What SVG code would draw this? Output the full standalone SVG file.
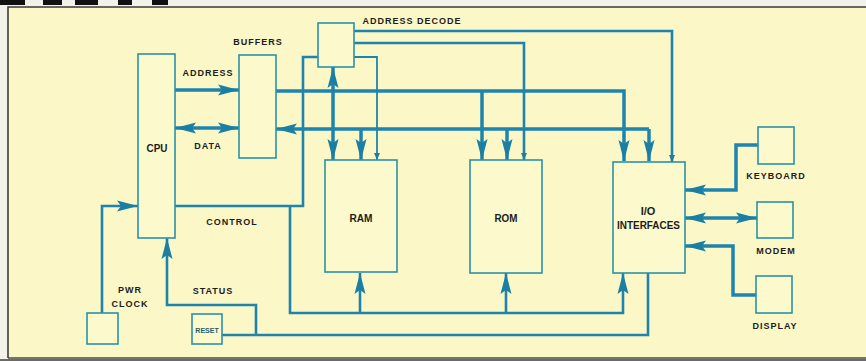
<svg xmlns="http://www.w3.org/2000/svg" width="866" height="361" viewBox="0 0 866 361">
<style>
.bg{fill:#fbf7c6}
.box{fill:#fcf9cc;stroke:#2a93a6;stroke-width:1.6}
.bus{fill:none;stroke:#1e84ae;stroke-width:3.5;stroke-linejoin:miter}
.mid{fill:none;stroke:#1e84ae;stroke-width:2.6}
.thin{fill:none;stroke:#1e84ae;stroke-width:1.8}
.lbl{font-family:"Liberation Sans",Arial,sans-serif;font-size:9px;font-weight:bold;letter-spacing:1px;fill:#1c1c1c;text-anchor:middle}
.big{font-family:"Liberation Sans",Arial,sans-serif;font-size:11px;font-weight:bold;fill:#1c1c1c;text-anchor:middle}
.rst{font-family:"Liberation Sans",Arial,sans-serif;font-size:7px;font-weight:bold;fill:#23606c;text-anchor:middle}
</style>
<defs>
<marker id="ah" markerUnits="userSpaceOnUse" markerWidth="22" markerHeight="12" refX="21" refY="6" orient="auto-start-reverse" viewBox="0 0 22 12">
<path d="M0,0.5 L21,6 L0,11.5 L4,6 z" fill="#1b7fa3"/>
</marker>
<marker id="sa" markerUnits="userSpaceOnUse" markerWidth="8" markerHeight="6" refX="7" refY="3" orient="auto" viewBox="0 0 8 6">
<path d="M0,0 L7,3 L0,6 z" fill="#1b7fa3"/>
</marker>
</defs>
<rect x="0" y="0" width="866" height="361" fill="#f3f2ea"/>
<rect class="bg" x="8" y="7" width="858" height="351"/>
<path d="M8,358 V7 H866" fill="none" stroke="#3a3a3a" stroke-width="1.6"/>
<path d="M8,358 H866" fill="none" stroke="#4a4a4a" stroke-width="1.6"/>
<rect x="0" y="359" width="866" height="2" fill="#6b6b66"/>
<g fill="#111">
<rect x="0" y="0" width="25" height="5"/>
<rect x="43" y="0" width="19" height="5"/>
<rect x="75" y="0" width="23" height="5"/>
<rect x="118" y="0" width="14" height="5"/>
<rect x="152" y="0" width="16" height="5"/>
</g>

<g id="connectors">
<path class="bus" d="M175,90 H239" marker-end="url(#ah)"/>
<path class="bus" d="M175,128 H239" marker-start="url(#ah)" marker-end="url(#ah)"/>
<path class="bus" d="M276,91 H624 V161" marker-end="url(#ah)"/>
<path class="bus" d="M649,129 H276" marker-end="url(#ah)"/>
<path class="bus" d="M649,129 V161" marker-end="url(#ah)"/>
<path class="bus" d="M333,91 V67" marker-end="url(#ah)"/>
<path class="bus" d="M333,91 V160" marker-end="url(#ah)"/>
<path class="bus" d="M361,129 V160" marker-end="url(#ah)"/>
<path class="bus" d="M482,91 V160" marker-end="url(#ah)"/>
<path class="bus" d="M507,129 V160" marker-end="url(#ah)"/>
<path class="mid" d="M175,206 H303 V57 H318"/>
<path class="thin" d="M354,57 H377 V160" marker-end="url(#sa)"/>
<path class="mid" d="M354,43 H524 V160" marker-end="url(#sa)"/>
<path class="mid" d="M354,31 H672 V162" marker-end="url(#sa)"/>
<path class="mid" d="M290,206 V313 H623 V273" marker-end="url(#ah)"/>
<path class="mid" d="M360,313 V273" marker-end="url(#ah)"/>
<path class="mid" d="M506,313 V273" marker-end="url(#ah)"/>
<path class="mid" d="M102,313 V206 H138" marker-end="url(#ah)"/>
<path class="mid" d="M648,273 V335 H222"/>
<path class="mid" d="M256,335 V305 H167 V238" marker-end="url(#ah)"/>
<path class="bus" d="M758,145 H736 V190 H685" marker-end="url(#ah)"/>
<path class="bus" d="M685,218 H757" marker-start="url(#ah)" marker-end="url(#ah)"/>
<path class="bus" d="M756,295 H733 V246 H685" marker-end="url(#ah)"/>
</g>

<g id="labels">
<text class="lbl" x="208" y="76">ADDRESS</text>
<text class="lbl" x="208" y="149">DATA</text>
<text class="lbl" x="232" y="225">CONTROL</text>
<text class="lbl" x="213" y="294">STATUS</text>
</g>

<g id="cpu"><rect class="box" x="138" y="54" width="37" height="184"/><text class="big" x="157" y="152" textLength="21" lengthAdjust="spacingAndGlyphs">CPU</text></g>
<g id="buffers"><rect class="box" x="239" y="55" width="37" height="103"/><text class="lbl" x="258" y="45">BUFFERS</text></g>
<g id="decode"><rect class="box" x="318" y="23" width="36" height="44"/><text class="lbl" x="412" y="24">ADDRESS DECODE</text></g>
<g id="ram"><rect class="box" x="325" y="160" width="72" height="112"/><text class="big" x="361" y="222" textLength="23" lengthAdjust="spacingAndGlyphs">RAM</text></g>
<g id="rom"><rect class="box" x="470" y="160" width="72" height="113"/><text class="big" x="506" y="222" textLength="23" lengthAdjust="spacingAndGlyphs">ROM</text></g>
<g id="io"><rect class="box" x="613" y="162" width="72" height="111"/><text class="big" x="648" y="215">I/O</text><text class="big" x="648.5" y="229" textLength="63" lengthAdjust="spacingAndGlyphs">INTERFACES</text></g>
<g id="keyboard"><rect class="box" x="758" y="127" width="36" height="37"/><text class="lbl" x="776" y="179">KEYBOARD</text></g>
<g id="modem"><rect class="box" x="757" y="202" width="36" height="36"/><text class="lbl" x="776" y="254">MODEM</text></g>
<g id="display"><rect class="box" x="756" y="276" width="36" height="37"/><text class="lbl" x="775" y="329">DISPLAY</text></g>
<g id="clock"><rect class="box" x="87" y="313" width="31" height="31"/><text class="lbl" x="130" y="293">PWR</text><text class="lbl" x="130" y="307">CLOCK</text></g>
<g id="reset"><rect class="box" x="192" y="314" width="30" height="30"/><text class="rst" x="207" y="333">RESET</text></g>
</svg>
